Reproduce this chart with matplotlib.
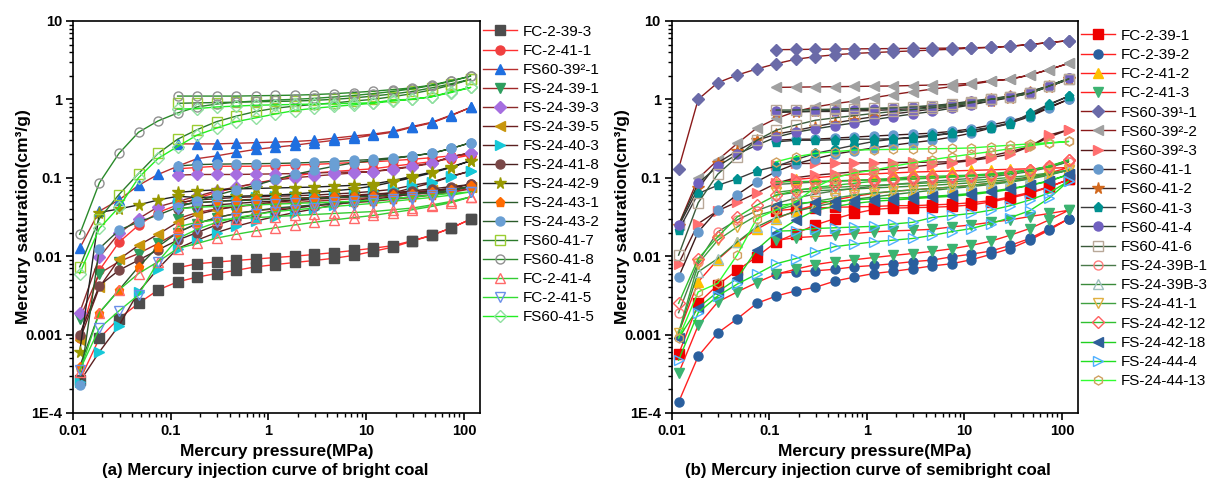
import numpy as np
import matplotlib
matplotlib.use('Agg')
import matplotlib.pyplot as plt
from matplotlib.ticker import FixedLocator, FixedFormatter, LogLocator, NullFormatter

plt.rcParams['font.family'] = ['Liberation Sans', 'DejaVu Sans']

# pressure points (MPa); extrusion branch uses the points from 0.1175 upward
P = [0.0117, 0.0186, 0.0295, 0.0468, 0.0741, 0.1175, 0.186, 0.295, 0.468, 0.741, 1.175,
     1.86, 2.95, 4.68, 7.41, 11.75, 18.6, 29.5, 46.8, 74.1, 117.5]
P_ext = P[5:]

# ---------------- (a) bright coal ----------------
names_a = ['FC-2-39-3', 'FC-2-41-1', 'FS60-39²-1', 'FS-24-39-1', 'FS-24-39-3', 'FS-24-39-5',
           'FS-24-40-3', 'FS-24-41-8', 'FS-24-42-9', 'FS-24-43-1', 'FS-24-43-2', 'FS60-41-7',
           'FS60-41-8', 'FC-2-41-4', 'FC-2-41-5', 'FS60-41-5']

intr_a = [
    [0.00026, 0.0009, 0.0016, 0.0025, 0.0037, 0.0047, 0.0054, 0.006, 0.0066, 0.0073, 0.0078,
     0.0083, 0.0088, 0.0094, 0.0102, 0.0115, 0.013, 0.0155, 0.0184, 0.0229, 0.0296],
    [0.0009, 0.0066, 0.0150, 0.0248, 0.036, 0.045, 0.055, 0.065, 0.075, 0.085, 0.095,
     0.105, 0.115, 0.12, 0.125, 0.13, 0.14, 0.15, 0.16, 0.175, 0.195],
    [0.0126, 0.0375, 0.052, 0.080, 0.110, 0.14, 0.175, 0.19, 0.21, 0.23, 0.245,
     0.26, 0.28, 0.30, 0.32, 0.35, 0.38, 0.44, 0.50, 0.62, 0.79],
    [0.0016, 0.006, 0.0085, 0.0108, 0.0145, 0.02, 0.026, 0.031, 0.035, 0.038, 0.04,
     0.042, 0.044, 0.046, 0.048, 0.05, 0.053, 0.056, 0.06, 0.065, 0.072],
    [0.0019, 0.0097, 0.0195, 0.030, 0.0425, 0.05, 0.058, 0.068, 0.076, 0.085, 0.093,
     0.1, 0.105, 0.11, 0.115, 0.12, 0.13, 0.14, 0.155, 0.185, 0.208],
    [0.00085, 0.004, 0.0091, 0.0137, 0.019, 0.027, 0.034, 0.039, 0.043, 0.046, 0.049,
     0.051, 0.053, 0.055, 0.057, 0.059, 0.061, 0.064, 0.067, 0.071, 0.076],
    [0.00025, 0.0006, 0.0013, 0.0035, 0.0069, 0.0125, 0.016, 0.02, 0.024, 0.028, 0.032,
     0.036, 0.04, 0.045, 0.05, 0.056, 0.064, 0.074, 0.086, 0.103, 0.122],
    [0.001, 0.0042, 0.0066, 0.0089, 0.012, 0.016, 0.02, 0.025, 0.03, 0.034, 0.038,
     0.041, 0.044, 0.047, 0.05, 0.053, 0.057, 0.062, 0.067, 0.074, 0.082],
    [0.0006, 0.036, 0.040, 0.045, 0.052, 0.058, 0.056, 0.057, 0.058, 0.059, 0.06,
     0.062, 0.065, 0.068, 0.072, 0.078, 0.088, 0.1, 0.115, 0.135, 0.165],
    [0.00039, 0.0019, 0.0037, 0.0073, 0.0132, 0.02, 0.026, 0.031, 0.035, 0.038, 0.041,
     0.043, 0.045, 0.047, 0.049, 0.051, 0.054, 0.057, 0.061, 0.068, 0.078],
    [0.00023, 0.0125, 0.0214, 0.0273, 0.0334, 0.042, 0.05, 0.06, 0.07, 0.08, 0.095,
     0.11, 0.125, 0.14, 0.155, 0.165, 0.175, 0.19, 0.205, 0.236, 0.28],
    [0.0073, 0.030, 0.061, 0.113, 0.204, 0.31, 0.41, 0.52, 0.61, 0.70, 0.77,
     0.82, 0.86, 0.9, 0.95, 1.0, 1.08, 1.18, 1.32, 1.52, 1.8],
    [0.019, 0.086, 0.204, 0.38, 0.53, 0.67, 0.80, 0.87, 0.92, 0.95, 0.98,
     1.0, 1.03, 1.07, 1.12, 1.18, 1.26, 1.36, 1.5, 1.7, 1.98],
    [0.00033, 0.0019, 0.0037, 0.006, 0.0085, 0.0125, 0.0145, 0.017, 0.019, 0.021, 0.023,
     0.025, 0.027, 0.029, 0.031, 0.033, 0.036, 0.039, 0.043, 0.048, 0.057],
    [0.00035, 0.0012, 0.002, 0.0032, 0.0085, 0.0167, 0.022, 0.027, 0.031, 0.034, 0.037,
     0.039, 0.041, 0.043, 0.045, 0.047, 0.05, 0.053, 0.056, 0.06, 0.066],
    [0.006, 0.0226, 0.042, 0.10, 0.176, 0.25, 0.35, 0.43, 0.52, 0.58, 0.65,
     0.72, 0.77, 0.81, 0.85, 0.89, 0.95, 1.0, 1.08, 1.22, 1.42],
]

extr_a = [
    [0.0071, 0.0080, 0.0084, 0.0088, 0.0092, 0.0096, 0.0100, 0.0105, 0.0111, 0.0118, 0.0126,
     0.0136, 0.0157, 0.0185, 0.0229, 0.0296],
    [0.13, 0.135, 0.14, 0.14, 0.14, 0.142, 0.145, 0.148, 0.152, 0.156, 0.16, 0.165, 0.172,
     0.18, 0.19, 0.195],
    [0.27, 0.27, 0.27, 0.275, 0.28, 0.285, 0.29, 0.30, 0.32, 0.34, 0.36, 0.39, 0.45, 0.51,
     0.63, 0.79],
    [0.03, 0.036, 0.04, 0.043, 0.045, 0.047, 0.048, 0.05, 0.052, 0.054, 0.056, 0.058, 0.061,
     0.064, 0.068, 0.072],
    [0.108, 0.11, 0.11, 0.11, 0.111, 0.112, 0.113, 0.115, 0.117, 0.118, 0.12, 0.127, 0.138,
     0.152, 0.185, 0.208],
    [0.045, 0.048, 0.05, 0.052, 0.053, 0.054, 0.055, 0.056, 0.058, 0.06, 0.062, 0.064, 0.066,
     0.069, 0.072, 0.076],
    [0.048, 0.052, 0.054, 0.056, 0.057, 0.058, 0.059, 0.06, 0.062, 0.064, 0.067, 0.071, 0.08,
     0.088, 0.105, 0.122],
    [0.04, 0.043, 0.045, 0.047, 0.049, 0.05, 0.052, 0.054, 0.056, 0.058, 0.061, 0.064, 0.068,
     0.072, 0.077, 0.082],
    [0.065, 0.068, 0.07, 0.072, 0.073, 0.074, 0.075, 0.076, 0.078, 0.08, 0.083, 0.092, 0.104,
     0.118, 0.138, 0.165],
    [0.045, 0.048, 0.05, 0.051, 0.052, 0.053, 0.054, 0.055, 0.056, 0.057, 0.058, 0.06, 0.062,
     0.065, 0.069, 0.078],
    [0.141, 0.147, 0.149, 0.15, 0.151, 0.152, 0.154, 0.157, 0.161, 0.166, 0.171, 0.18, 0.19,
     0.205, 0.236, 0.28],
    [0.89, 0.9, 0.91, 0.92, 0.93, 0.94, 0.95, 0.97, 1.0, 1.04, 1.1, 1.17, 1.26, 1.4, 1.58, 1.8],
    [1.10, 1.10, 1.10, 1.10, 1.11, 1.12, 1.13, 1.15, 1.18, 1.22, 1.27, 1.33, 1.40, 1.52, 1.73,
     1.98],
    [0.0236, 0.027, 0.029, 0.03, 0.031, 0.032, 0.033, 0.034, 0.035, 0.036, 0.037, 0.039, 0.041,
     0.045, 0.05, 0.057],
    [0.04, 0.042, 0.043, 0.044, 0.045, 0.046, 0.047, 0.048, 0.049, 0.05, 0.052, 0.054, 0.057,
     0.06, 0.063, 0.066],
    [0.75, 0.76, 0.8, 0.82, 0.84, 0.85, 0.86, 0.87, 0.88, 0.89, 0.905, 0.98, 1.0, 1.08, 1.25,
     1.42],
]

# marker, face colour ('none' = open), edge colour, line colour
style_a = [
    ('s', '#4d4d4d', '#4d4d4d', '#ff3030'),
    ('o', '#f04040', '#f04040', '#ff3030'),
    ('^', '#1f6fe0', '#1f6fe0', '#b83030'),
    ('v', '#2e9e5e', '#2e9e5e', '#a02828'),
    ('D', '#a66ee0', '#a66ee0', '#8b2a2a'),
    ('<', '#c8960c', '#c8960c', '#6b2020'),
    ('>', '#16c8d8', '#16c8d8', '#5a2020'),
    ('o', '#7a4848', '#7a4848', '#4a2020'),
    ('*', '#999900', '#999900', '#202020'),
    ('p', '#ff6a00', '#ff6a00', '#2a5a2a'),
    ('o', '#6a9fd4', '#6a9fd4', '#2a5a2a'),
    ('s', 'none', '#9acd32', '#2a7a2a'),
    ('o', 'none', '#909090', '#2a8a2a'),
    ('^', 'none', '#ff6a6a', '#33cc33'),
    ('v', 'none', '#6a8fe8', '#33dd33'),
    ('D', 'none', '#8fe0a0', '#22ee22'),
]

# ---------------- (b) semibright coal ----------------
names_b = ['FC-2-39-1', 'FC-2-39-2', 'FC-2-41-2', 'FC-2-41-3', 'FS60-39¹-1', 'FS60-39²-2',
           'FS60-39²-3', 'FS60-41-1', 'FS60-41-2', 'FS60-41-3', 'FS60-41-4', 'FS60-41-6',
           'FS-24-39B-1', 'FS-24-39B-3', 'FS-24-41-1', 'FS-24-42-12', 'FS-24-42-18',
           'FS-24-44-4', 'FS-24-44-13']

intr_b = [
    [0.00056, 0.0025, 0.0043, 0.0066, 0.0098, 0.0152, 0.0194, 0.025, 0.030, 0.035, 0.0394,
     0.041, 0.0415, 0.042, 0.043, 0.045, 0.049, 0.055, 0.063, 0.076, 0.095],
    [0.000137, 0.00053, 0.00105, 0.00159, 0.0025, 0.0031, 0.0036, 0.0040, 0.0048, 0.0054,
     0.0060, 0.0064, 0.0069, 0.0075, 0.0080, 0.0090, 0.0105, 0.0125, 0.0160, 0.0215, 0.030],
    [0.00105, 0.0047, 0.009, 0.015, 0.022, 0.03, 0.038, 0.045, 0.052, 0.058, 0.063,
     0.067, 0.07, 0.073, 0.076, 0.08, 0.085, 0.09, 0.1, 0.115, 0.135],
    [0.00032, 0.00131, 0.0026, 0.0035, 0.0046, 0.0059, 0.0068, 0.0078, 0.0085, 0.009, 0.0096,
     0.0102, 0.0108, 0.0115, 0.0124, 0.0137, 0.0155, 0.0185, 0.0225, 0.029, 0.0385],
    [0.13, 1.0, 1.63, 2.04, 2.44, 2.85, 3.24, 3.5, 3.7, 3.85, 3.95,
     4.05, 4.15, 4.25, 4.35, 4.5, 4.6, 4.75, 5.0, 5.3, 5.6],
    [0.025, 0.098, 0.168, 0.274, 0.43, 0.57, 0.7, 0.8, 0.88, 0.95, 1.05,
     1.15, 1.25, 1.35, 1.45, 1.55, 1.7, 1.82, 2.04, 2.4, 2.88],
    [0.008, 0.026, 0.038, 0.049, 0.064, 0.085, 0.1, 0.108, 0.113, 0.119, 0.125,
     0.13, 0.138, 0.146, 0.155, 0.165, 0.18, 0.2, 0.25, 0.33, 0.41],
    [0.0054, 0.0204, 0.039, 0.061, 0.089, 0.12, 0.15, 0.175, 0.2, 0.22, 0.24,
     0.26, 0.28, 0.3, 0.33, 0.37, 0.43, 0.5, 0.6, 0.78, 1.0],
    [0.024, 0.073, 0.155, 0.22, 0.3, 0.36, 0.4, 0.45, 0.5, 0.55, 0.6,
     0.65, 0.7, 0.75, 0.8, 0.87, 0.95, 1.05, 1.2, 1.45, 1.8],
    [0.0213, 0.063, 0.08, 0.097, 0.122, 0.14, 0.17, 0.204, 0.23, 0.26, 0.29,
     0.31, 0.33, 0.35, 0.37, 0.4, 0.44, 0.5, 0.62, 0.85, 1.1],
    [0.0248, 0.085, 0.14, 0.2, 0.26, 0.33, 0.38, 0.42, 0.46, 0.5, 0.55,
     0.6, 0.65, 0.7, 0.77, 0.85, 0.95, 1.08, 1.2, 1.48, 1.85],
    [0.0103, 0.048, 0.111, 0.185, 0.30, 0.405, 0.47, 0.54, 0.58, 0.62, 0.66,
     0.7, 0.74, 0.78, 0.82, 0.9, 1.0, 1.08, 1.19, 1.48, 1.82],
    [0.0019, 0.0085, 0.0204, 0.029, 0.038, 0.047, 0.055, 0.062, 0.068, 0.073, 0.078,
     0.082, 0.086, 0.09, 0.094, 0.098, 0.103, 0.11, 0.12, 0.135, 0.16],
    [0.00103, 0.0063, 0.0093, 0.0152, 0.0236, 0.031, 0.037, 0.043, 0.048, 0.053, 0.057,
     0.061, 0.065, 0.069, 0.073, 0.077, 0.082, 0.088, 0.096, 0.108, 0.125],
    [0.00105, 0.008, 0.016, 0.0236, 0.033, 0.0385, 0.045, 0.05, 0.055, 0.06, 0.064,
     0.067, 0.07, 0.073, 0.076, 0.08, 0.085, 0.09, 0.098, 0.11, 0.125],
    [0.0025, 0.0093, 0.0176, 0.0316, 0.0445, 0.06, 0.068, 0.075, 0.08, 0.085, 0.09,
     0.093, 0.096, 0.099, 0.102, 0.105, 0.108, 0.113, 0.125, 0.141, 0.168],
    [0.0009, 0.0022, 0.0035, 0.0052, 0.0121, 0.02, 0.0288, 0.0385, 0.043, 0.047, 0.05,
     0.052, 0.054, 0.056, 0.058, 0.061, 0.065, 0.071, 0.08, 0.092, 0.11],
    [0.00047, 0.0019, 0.0031, 0.0044, 0.0059, 0.008, 0.0093, 0.0113, 0.0132, 0.0142, 0.0152,
     0.016, 0.0168, 0.0184, 0.0205, 0.0225, 0.026, 0.031, 0.038, 0.055, 0.091],
    [0.0009, 0.0035, 0.0045, 0.0104, 0.030, 0.039, 0.049, 0.075, 0.1, 0.115, 0.125,
     0.14, 0.155, 0.17, 0.185, 0.2, 0.215, 0.235, 0.255, 0.275, 0.29],
]

extr_b = [
    [0.038, 0.04, 0.041, 0.042, 0.0425, 0.043, 0.044, 0.044, 0.045, 0.046, 0.048, 0.051, 0.057,
     0.065, 0.077, 0.095],
    [0.0060, 0.0063, 0.0065, 0.0068, 0.0073, 0.0076, 0.0080, 0.0085, 0.0089, 0.0098, 0.0106,
     0.0116, 0.0137, 0.0168, 0.0225, 0.030],
    [0.085, 0.095, 0.1, 0.105, 0.11, 0.112, 0.115, 0.118, 0.12, 0.122, 0.124, 0.126, 0.128,
     0.13, 0.132, 0.135],
    [0.0159, 0.0172, 0.0178, 0.0184, 0.0194, 0.0204, 0.021, 0.0214, 0.022, 0.0236, 0.025,
     0.027, 0.029, 0.032, 0.035, 0.0385],
    [4.3, 4.32, 4.35, 4.37, 4.4, 4.42, 4.44, 4.46, 4.48, 4.5, 4.55, 4.6, 4.75, 5.0, 5.3, 5.6],
    [1.42, 1.43, 1.44, 1.45, 1.46, 1.47, 1.48, 1.5, 1.52, 1.55, 1.6, 1.73, 1.8, 2.04, 2.4, 2.88],
    [0.145, 0.152, 0.152, 0.153, 0.154, 0.155, 0.156, 0.157, 0.158, 0.16, 0.17, 0.19, 0.215,
     0.25, 0.35, 0.41],
    [0.3, 0.31, 0.31, 0.32, 0.33, 0.34, 0.35, 0.36, 0.37, 0.39, 0.42, 0.47, 0.53, 0.62, 0.8, 1.0],
    [0.68, 0.69, 0.7, 0.7, 0.71, 0.72, 0.74, 0.76, 0.8, 0.85, 0.92, 1.0, 1.1, 1.25, 1.48, 1.8],
    [0.287, 0.3, 0.3, 0.305, 0.31, 0.31, 0.315, 0.32, 0.34, 0.37, 0.4, 0.43, 0.49, 0.66, 0.87,
     1.1],
    [0.7, 0.7, 0.71, 0.72, 0.73, 0.75, 0.77, 0.8, 0.83, 0.88, 0.95, 1.02, 1.1, 1.25, 1.5, 1.85],
    [0.73, 0.73, 0.74, 0.75, 0.76, 0.77, 0.78, 0.8, 0.82, 0.86, 0.93, 1.0, 1.08, 1.19, 1.48,
     1.82],
    [0.082, 0.085, 0.088, 0.09, 0.092, 0.094, 0.096, 0.098, 0.1, 0.102, 0.105, 0.11, 0.117,
     0.125, 0.14, 0.16],
    [0.06, 0.065, 0.068, 0.07, 0.072, 0.074, 0.076, 0.078, 0.08, 0.083, 0.086, 0.09, 0.095,
     0.102, 0.112, 0.125],
    [0.065, 0.07, 0.073, 0.075, 0.078, 0.08, 0.082, 0.084, 0.086, 0.089, 0.092, 0.096, 0.101,
     0.107, 0.115, 0.125],
    [0.089, 0.089, 0.09, 0.091, 0.093, 0.095, 0.098, 0.103, 0.104, 0.106, 0.108, 0.112, 0.119,
     0.125, 0.138, 0.168],
    [0.044, 0.047, 0.049, 0.05, 0.052, 0.054, 0.055, 0.056, 0.058, 0.06, 0.063, 0.067, 0.073,
     0.08, 0.09, 0.11],
    [0.0208, 0.0212, 0.0225, 0.023, 0.0235, 0.024, 0.0257, 0.027, 0.0311, 0.033, 0.035, 0.0385,
     0.044, 0.052, 0.064, 0.091],
    [0.16, 0.185, 0.204, 0.215, 0.225, 0.228, 0.23, 0.232, 0.234, 0.236, 0.24, 0.25, 0.26,
     0.27, 0.28, 0.29],
]

style_b = [
    ('s', '#ee0000', '#ee0000', '#ff2020'),
    ('o', '#2a5f9e', '#2a5f9e', '#ff2020'),
    ('^', '#ffc000', '#ffc000', '#ff2020'),
    ('v', '#3cb371', '#3cb371', '#ff2020'),
    ('D', '#6a6aa8', '#6a6aa8', '#8b1a1a'),
    ('<', '#a0a0a0', '#a0a0a0', '#8b1a1a'),
    ('>', '#ff6f6f', '#ff6f6f', '#5a1a1a'),
    ('o', '#6699cc', '#6699cc', '#3a1a1a'),
    ('*', '#d2691e', '#d2691e', '#3a2a2a'),
    ('p', '#009090', '#009090', '#3a3a3a'),
    ('o', '#7060c0', '#7060c0', '#2f3f2f'),
    ('s', 'none', '#b8a898', '#3a5a3a'),
    ('o', 'none', '#ff7f7f', '#4a7a4a'),
    ('^', 'none', '#9fc0c0', '#3a8a3a'),
    ('v', 'none', '#e0b040', '#40a040'),
    ('D', 'none', '#ff6060', '#30c030'),
    ('<', '#2f5f9a', '#2f5f9a', '#20d020'),
    ('>', 'none', '#4fb0ff', '#20e020'),
    ('h', 'none', '#d0a060', '#30ff30'),
]


def draw_panel(ax, names, intr, extr, styles):
    for name, yi, ye, (mk, fc, ec, lc) in zip(names, intr, extr, styles):
        # intrusion up to the top pressure, then extrusion back down
        x = list(P) + list(P_ext[::-1])
        y = list(yi) + list(ye[::-1])
        ms = 8.5 if mk == '*' else 6.5
        ax.plot(x, y, color=lc, lw=1.0, marker=mk, ms=ms, mfc=fc, mec=ec, mew=1.0,
                label=name)
    ax.set_xscale('log')
    ax.set_yscale('log')
    ax.set_xlim(0.01, 146)
    ax.set_ylim(1e-4, 10)
    ax.xaxis.set_major_locator(FixedLocator([0.01, 0.1, 1, 10, 100]))
    ax.xaxis.set_major_formatter(FixedFormatter(['0.01', '0.1', '1', '10', '100']))
    ax.xaxis.set_minor_locator(LogLocator(base=10, subs=np.arange(2, 10)))
    ax.xaxis.set_minor_formatter(NullFormatter())
    ax.yaxis.set_major_locator(FixedLocator([1e-4, 1e-3, 1e-2, 0.1, 1, 10]))
    ax.yaxis.set_major_formatter(FixedFormatter(['1E-4', '0.001', '0.01', '0.1', '1', '10']))
    ax.yaxis.set_minor_locator(LogLocator(base=10, subs=np.arange(2, 10)))
    ax.yaxis.set_minor_formatter(NullFormatter())
    ax.tick_params(which='major', direction='out', length=5, width=1.2, labelsize=10.5, pad=3)
    ax.tick_params(which='minor', direction='out', length=3, width=1.0)
    for lab in ax.get_xticklabels() + ax.get_yticklabels():
        lab.set_fontweight('bold')
    for sp in ax.spines.values():
        sp.set_linewidth(1.2)
    ax.set_xlabel('Mercury pressure(MPa)', fontsize=12.5, fontweight='bold', labelpad=4)
    ax.set_ylabel('Mercury saturation(cm³/g)', fontsize=12.5, fontweight='bold', labelpad=-4)


fig = plt.figure(figsize=(12.07, 4.91), dpi=100)
ax1 = fig.add_axes([0.0605, 0.159, 0.3372, 0.7984])
ax2 = fig.add_axes([0.5567, 0.159, 0.3364, 0.7984])

draw_panel(ax1, names_a, intr_a, extr_a, style_a)
draw_panel(ax2, names_b, intr_b, extr_b, style_b)

ax1.legend(loc='upper left', bbox_to_anchor=(1.008, 0.99), frameon=False, fontsize=11,
           handlelength=2.2, handletextpad=0.4, labelspacing=0.33, borderaxespad=0,
           borderpad=0)
ax2.legend(loc='upper left', bbox_to_anchor=(1.008, 0.98), frameon=False, fontsize=11,
           handlelength=2.2, handletextpad=0.4, labelspacing=0.34, borderaxespad=0,
           borderpad=0)

fig.text(0.2195, 0.041, '(a) Mercury injection curve of bright coal', ha='center',
         va='center', fontsize=12.2, fontweight='bold')
fig.text(0.719, 0.041, '(b) Mercury injection curve of semibright coal', ha='center',
         va='center', fontsize=12.2, fontweight='bold')

fig.savefig('out.png', dpi=100)
